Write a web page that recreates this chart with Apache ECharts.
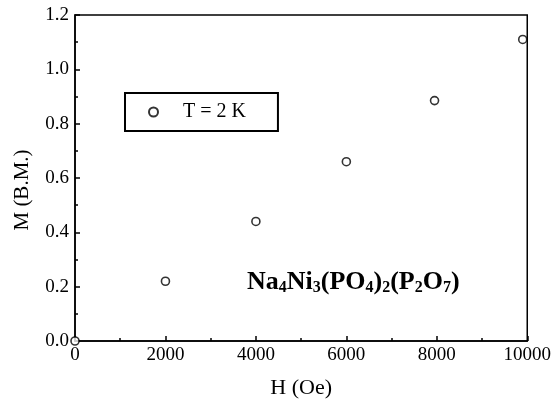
<!DOCTYPE html>
<html>
<head>
<meta charset="utf-8">
<script src="https://cdn.jsdelivr.net/npm/echarts@6/dist/echarts.min.js"></script>
<style>
  html, body { margin: 0; padding: 0; background: #fff; }
  #chart { width: 554px; height: 404px; }
</style>
</head>
<body>
<div id="chart"></div>
<script>
// field H (Oe) and magnetization M (B.M.) at T = 2 K
var fieldH = [0, 2000, 4000, 6000, 7950, 9900];
var magM = [0, 0.22, 0.44, 0.66, 0.885, 1.11];
var seriesName = "T = 2 K";

var chart = echarts.init(document.getElementById("chart"));
var font = "'Liberation Serif', 'DejaVu Serif', serif";

var option = {
  animation: false,
  grid: {
    left: 75,
    right: 25,
    top: 15,
    bottom: 62,
    show: true,
    borderColor: "#000",
    borderWidth: 1.5,
  },
  legend: {
    data: [seriesName],
    left: 125,
    top: 93,
    orient: "vertical",
    borderColor: "#000",
    borderWidth: 2,
    padding: [9, 32, 9, 23],
    itemWidth: 9,
    itemHeight: 9,
    itemGap: 0,
    textStyle: { fontFamily: font, fontSize: 20, color: "#000", padding: [0, 0, 0, 20] },
  },
  xAxis: {
    type: "value",
    min: 0,
    max: 10000,
    interval: 2000,
    name: "H (Oe)",
    nameLocation: "middle",
    nameGap: 36,
    nameTextStyle: { fontFamily: font, fontSize: 22, color: "#000" },
    axisLine: { show: true, onZero: false, lineStyle: { color: "#000", width: 1.5 } },
    axisTick: { show: true, inside: true, length: 5, lineStyle: { color: "#000", width: 1.5 } },
    minorTick: { show: true, splitNumber: 2, length: 3, lineStyle: { color: "#000", width: 1.5 } },
    axisLabel: {
      fontFamily: font,
      fontSize: 19,
      color: "#000",
      margin: 5,
      formatter: function (v) { return String(v); },
    },
    splitLine: { show: false },
  },
  yAxis: {
    type: "value",
    min: 0,
    max: 1.2,
    interval: 0.2,
    name: "M (B.M.)",
    nameLocation: "middle",
    nameGap: 42,
    nameTextStyle: { fontFamily: font, fontSize: 21, color: "#000", padding: [0, 24, 0, 0] },
    axisLine: { show: true, onZero: false, lineStyle: { color: "#000", width: 1.5 } },
    axisTick: { show: true, inside: true, length: 5, lineStyle: { color: "#000", width: 1.5 } },
    minorTick: { show: true, splitNumber: 2, length: 3, lineStyle: { color: "#000", width: 1.5 } },
    axisLabel: {
      fontFamily: font,
      fontSize: 19,
      color: "#000",
      margin: 6,
      formatter: function (v) { return v.toFixed(1); },
    },
    splitLine: { show: false },
  },
  graphic: [
    {
      type: "text",
      left: 247,
      top: 269,
      style: {
        text: "Na{s|4}Ni{s|3}(PO{s|4}){s|2}(P{s|2}O{s|7})",
        fontFamily: font,
        fontSize: 26,
        fontWeight: "bold",
        fill: "#000",
        rich: {
          s: { fontFamily: font, fontSize: 16, fontWeight: "bold", fill: "#000", padding: [12, 0, 0, 0] },
        },
      },
    },
  ],
  series: [
    {
      name: seriesName,
      type: "scatter",
      data: fieldH.map(function (h, i) { return [h, magM[i]]; }),
      symbol: "circle",
      symbolSize: 8,
      clip: false,
      itemStyle: { color: "#fff", borderColor: "#000", borderWidth: 1.6 },
    },
  ],
};

chart.setOption(option);
window.addEventListener("resize", function () {
  chart.resize();
});
</script>
</body>
</html>
